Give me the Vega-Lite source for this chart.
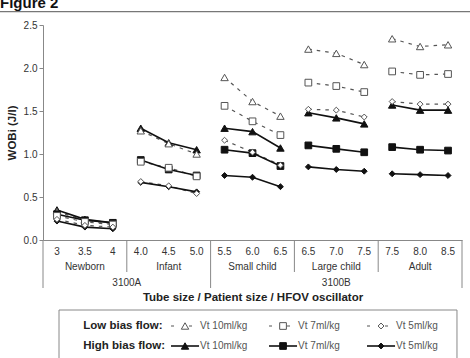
{
  "$schema": "https://vega.github.io/schema/vega-lite/v6.json",
  "width": 419,
  "height": 215,
  "autosize": {"type": "none"},
  "padding": {"left": 43, "top": 25, "right": 8, "bottom": 118},
  "config": {"font": "Liberation Sans", "view": {"stroke": null}},
  "datasets": {
    "wob": [
      {"g": "Newborn", "s": "3", "flow": "High", "vt": "10", "wob": 0.35},
      {"g": "Newborn", "s": "3.5", "flow": "High", "vt": "10", "wob": 0.24},
      {"g": "Newborn", "s": "4", "flow": "High", "vt": "10", "wob": 0.20},
      {"g": "Newborn", "s": "3", "flow": "High", "vt": "7", "wob": 0.30},
      {"g": "Newborn", "s": "3.5", "flow": "High", "vt": "7", "wob": 0.23},
      {"g": "Newborn", "s": "4", "flow": "High", "vt": "7", "wob": 0.20},
      {"g": "Newborn", "s": "3", "flow": "High", "vt": "5", "wob": 0.22},
      {"g": "Newborn", "s": "3.5", "flow": "High", "vt": "5", "wob": 0.15},
      {"g": "Newborn", "s": "4", "flow": "High", "vt": "5", "wob": 0.13},
      {"g": "Newborn", "s": "3", "flow": "Low", "vt": "10", "wob": 0.33},
      {"g": "Newborn", "s": "3.5", "flow": "Low", "vt": "10", "wob": 0.23},
      {"g": "Newborn", "s": "4", "flow": "Low", "vt": "10", "wob": 0.19},
      {"g": "Newborn", "s": "3", "flow": "Low", "vt": "7", "wob": 0.28},
      {"g": "Newborn", "s": "3.5", "flow": "Low", "vt": "7", "wob": 0.21},
      {"g": "Newborn", "s": "4", "flow": "Low", "vt": "7", "wob": 0.18},
      {"g": "Newborn", "s": "3", "flow": "Low", "vt": "5", "wob": 0.24},
      {"g": "Newborn", "s": "3.5", "flow": "Low", "vt": "5", "wob": 0.17},
      {"g": "Newborn", "s": "4", "flow": "Low", "vt": "5", "wob": 0.15},

      {"g": "Infant", "s": "4.0", "flow": "High", "vt": "10", "wob": 1.30},
      {"g": "Infant", "s": "4.5", "flow": "High", "vt": "10", "wob": 1.13},
      {"g": "Infant", "s": "5.0", "flow": "High", "vt": "10", "wob": 1.05},
      {"g": "Infant", "s": "4.0", "flow": "High", "vt": "7", "wob": 0.93},
      {"g": "Infant", "s": "4.5", "flow": "High", "vt": "7", "wob": 0.82},
      {"g": "Infant", "s": "5.0", "flow": "High", "vt": "7", "wob": 0.75},
      {"g": "Infant", "s": "4.0", "flow": "High", "vt": "5", "wob": 0.67},
      {"g": "Infant", "s": "4.5", "flow": "High", "vt": "5", "wob": 0.62},
      {"g": "Infant", "s": "5.0", "flow": "High", "vt": "5", "wob": 0.56},
      {"g": "Infant", "s": "4.0", "flow": "Low", "vt": "10", "wob": 1.27},
      {"g": "Infant", "s": "4.5", "flow": "Low", "vt": "10", "wob": 1.12},
      {"g": "Infant", "s": "5.0", "flow": "Low", "vt": "10", "wob": 1.00},
      {"g": "Infant", "s": "4.0", "flow": "Low", "vt": "7", "wob": 0.91},
      {"g": "Infant", "s": "4.5", "flow": "Low", "vt": "7", "wob": 0.84},
      {"g": "Infant", "s": "5.0", "flow": "Low", "vt": "7", "wob": 0.74},
      {"g": "Infant", "s": "4.0", "flow": "Low", "vt": "5", "wob": 0.68},
      {"g": "Infant", "s": "4.5", "flow": "Low", "vt": "5", "wob": 0.63},
      {"g": "Infant", "s": "5.0", "flow": "Low", "vt": "5", "wob": 0.54},

      {"g": "Small child", "s": "5.5", "flow": "High", "vt": "10", "wob": 1.30},
      {"g": "Small child", "s": "6.0", "flow": "High", "vt": "10", "wob": 1.26},
      {"g": "Small child", "s": "6.5", "flow": "High", "vt": "10", "wob": 1.07},
      {"g": "Small child", "s": "5.5", "flow": "High", "vt": "7", "wob": 1.05},
      {"g": "Small child", "s": "6.0", "flow": "High", "vt": "7", "wob": 1.01},
      {"g": "Small child", "s": "6.5", "flow": "High", "vt": "7", "wob": 0.86},
      {"g": "Small child", "s": "5.5", "flow": "High", "vt": "5", "wob": 0.75},
      {"g": "Small child", "s": "6.0", "flow": "High", "vt": "5", "wob": 0.73},
      {"g": "Small child", "s": "6.5", "flow": "High", "vt": "5", "wob": 0.62},
      {"g": "Small child", "s": "5.5", "flow": "Low", "vt": "10", "wob": 1.89},
      {"g": "Small child", "s": "6.0", "flow": "Low", "vt": "10", "wob": 1.61},
      {"g": "Small child", "s": "6.5", "flow": "Low", "vt": "10", "wob": 1.44},
      {"g": "Small child", "s": "5.5", "flow": "Low", "vt": "7", "wob": 1.56},
      {"g": "Small child", "s": "6.0", "flow": "Low", "vt": "7", "wob": 1.38},
      {"g": "Small child", "s": "6.5", "flow": "Low", "vt": "7", "wob": 1.22},
      {"g": "Small child", "s": "5.5", "flow": "Low", "vt": "5", "wob": 1.16},
      {"g": "Small child", "s": "6.0", "flow": "Low", "vt": "5", "wob": 1.02},
      {"g": "Small child", "s": "6.5", "flow": "Low", "vt": "5", "wob": 0.87},

      {"g": "Large child", "s": "6.5", "flow": "High", "vt": "10", "wob": 1.48},
      {"g": "Large child", "s": "7.0", "flow": "High", "vt": "10", "wob": 1.42},
      {"g": "Large child", "s": "7.5", "flow": "High", "vt": "10", "wob": 1.35},
      {"g": "Large child", "s": "6.5", "flow": "High", "vt": "7", "wob": 1.10},
      {"g": "Large child", "s": "7.0", "flow": "High", "vt": "7", "wob": 1.06},
      {"g": "Large child", "s": "7.5", "flow": "High", "vt": "7", "wob": 1.02},
      {"g": "Large child", "s": "6.5", "flow": "High", "vt": "5", "wob": 0.85},
      {"g": "Large child", "s": "7.0", "flow": "High", "vt": "5", "wob": 0.82},
      {"g": "Large child", "s": "7.5", "flow": "High", "vt": "5", "wob": 0.80},
      {"g": "Large child", "s": "6.5", "flow": "Low", "vt": "10", "wob": 2.22},
      {"g": "Large child", "s": "7.0", "flow": "Low", "vt": "10", "wob": 2.17},
      {"g": "Large child", "s": "7.5", "flow": "Low", "vt": "10", "wob": 2.04},
      {"g": "Large child", "s": "6.5", "flow": "Low", "vt": "7", "wob": 1.83},
      {"g": "Large child", "s": "7.0", "flow": "Low", "vt": "7", "wob": 1.79},
      {"g": "Large child", "s": "7.5", "flow": "Low", "vt": "7", "wob": 1.72},
      {"g": "Large child", "s": "6.5", "flow": "Low", "vt": "5", "wob": 1.52},
      {"g": "Large child", "s": "7.0", "flow": "Low", "vt": "5", "wob": 1.51},
      {"g": "Large child", "s": "7.5", "flow": "Low", "vt": "5", "wob": 1.43},

      {"g": "Adult", "s": "7.5", "flow": "High", "vt": "10", "wob": 1.57},
      {"g": "Adult", "s": "8.0", "flow": "High", "vt": "10", "wob": 1.51},
      {"g": "Adult", "s": "8.5", "flow": "High", "vt": "10", "wob": 1.51},
      {"g": "Adult", "s": "7.5", "flow": "High", "vt": "7", "wob": 1.08},
      {"g": "Adult", "s": "8.0", "flow": "High", "vt": "7", "wob": 1.05},
      {"g": "Adult", "s": "8.5", "flow": "High", "vt": "7", "wob": 1.04},
      {"g": "Adult", "s": "7.5", "flow": "High", "vt": "5", "wob": 0.77},
      {"g": "Adult", "s": "8.0", "flow": "High", "vt": "5", "wob": 0.76},
      {"g": "Adult", "s": "8.5", "flow": "High", "vt": "5", "wob": 0.75},
      {"g": "Adult", "s": "7.5", "flow": "Low", "vt": "10", "wob": 2.34},
      {"g": "Adult", "s": "8.0", "flow": "Low", "vt": "10", "wob": 2.25},
      {"g": "Adult", "s": "8.5", "flow": "Low", "vt": "10", "wob": 2.27},
      {"g": "Adult", "s": "7.5", "flow": "Low", "vt": "7", "wob": 1.96},
      {"g": "Adult", "s": "8.0", "flow": "Low", "vt": "7", "wob": 1.92},
      {"g": "Adult", "s": "8.5", "flow": "Low", "vt": "7", "wob": 1.93},
      {"g": "Adult", "s": "7.5", "flow": "Low", "vt": "5", "wob": 1.61},
      {"g": "Adult", "s": "8.0", "flow": "Low", "vt": "5", "wob": 1.58},
      {"g": "Adult", "s": "8.5", "flow": "Low", "vt": "5", "wob": 1.58}
    ],
    "legendItems": [
      {"flow": "Low", "vt": "10", "label": "Vt 10ml/kg"},
      {"flow": "Low", "vt": "7", "label": "Vt 7ml/kg"},
      {"flow": "Low", "vt": "5", "label": "Vt 5ml/kg"},
      {"flow": "High", "vt": "10", "label": "Vt 10ml/kg"},
      {"flow": "High", "vt": "7", "label": "Vt 7ml/kg"},
      {"flow": "High", "vt": "5", "label": "Vt 5ml/kg"}
    ]
  },
  "layer": [
    {
      "data": {"name": "wob"},
      "transform": [{"calculate": "datum.g + '|' + datum.s", "as": "key"}],
      "encoding": {
        "x": {
          "field": "key", "type": "nominal", "bandPosition": 0.5,
          "scale": {"type": "band", "paddingInner": 0, "paddingOuter": 0,
            "domain": ["Newborn|3", "Newborn|3.5", "Newborn|4", "Infant|4.0", "Infant|4.5", "Infant|5.0", "Small child|5.5", "Small child|6.0", "Small child|6.5", "Large child|6.5", "Large child|7.0", "Large child|7.5", "Adult|7.5", "Adult|8.0", "Adult|8.5"]},
          "axis": {"title": "Tube size / Patient size / HFOV oscillator", "labelExpr": "split(datum.label, '|')[1]", "labelAngle": 0, "ticks": false, "grid": false,
            "domainColor": "#888", "labelFontSize": 10, "labelColor": "#333", "labelPadding": 6,
            "titleFontSize": 11.5, "titleFontWeight": "bold", "titleColor": "#222", "titlePadding": 35}
        },
        "y": {
          "field": "wob", "type": "quantitative", "scale": {"domain": [0, 2.5]},
          "axis": {"values": [0, 0.5, 1, 1.5, 2, 2.5], "format": ".1f", "grid": false, "domainColor": "#888", "tickColor": "#888", "tickSize": 4,
            "labelFontSize": 10, "labelColor": "#333", "labelPadding": 2,
            "title": "WOBi (J/l)", "titleFontSize": 11.5, "titleFontWeight": "bold", "titleColor": "#222", "titlePadding": 6}
        }
      },
      "layer": [
        {
          "transform": [{"filter": "datum.flow == 'Low'"}],
          "mark": {"type": "line", "color": "#555", "strokeWidth": 1.2, "strokeDash": [3.5, 5]},
          "encoding": {"detail": [{"field": "g", "type": "nominal"}, {"field": "vt", "type": "nominal"}]}
        },
        {
          "transform": [{"filter": "datum.flow == 'High'"}],
          "mark": {"type": "line", "color": "#111", "strokeWidth": 1.6},
          "encoding": {"detail": [{"field": "g", "type": "nominal"}, {"field": "vt", "type": "nominal"}]}
        },
        {
          "transform": [{"filter": "datum.vt == '10'"}],
          "mark": {"type": "point", "shape": "triangle-up", "size": 55, "filled": true, "opacity": 1, "strokeWidth": 1},
          "encoding": {
            "fill": {"field": "flow", "type": "nominal", "scale": {"domain": ["Low", "High"], "range": ["#ffffff", "#111111"]}, "legend": null},
            "stroke": {"field": "flow", "type": "nominal", "scale": {"domain": ["Low", "High"], "range": ["#555555", "#111111"]}, "legend": null}
          }
        },
        {
          "transform": [{"filter": "datum.vt == '7'"}],
          "mark": {"type": "point", "shape": "square", "size": 45, "filled": true, "opacity": 1, "strokeWidth": 1},
          "encoding": {
            "fill": {"field": "flow", "type": "nominal", "legend": null},
            "stroke": {"field": "flow", "type": "nominal", "legend": null}
          }
        },
        {
          "transform": [{"filter": "datum.vt == '5'"}],
          "mark": {"type": "point", "shape": "diamond", "size": 35, "filled": true, "opacity": 1, "strokeWidth": 1},
          "encoding": {
            "fill": {"field": "flow", "type": "nominal", "legend": null},
            "stroke": {"field": "flow", "type": "nominal", "legend": null}
          }
        }
      ]
    },
    {
      "layer": [
        {
          "data": {"values": [
            {"key": "Newborn|3", "from": "tick", "to": "machine"},
            {"key": "Infant|4.0", "from": "tick", "to": "group"},
            {"key": "Small child|5.5", "from": "tick", "to": "machine"},
            {"key": "Large child|6.5", "from": "tick", "to": "group"},
            {"key": "Adult|7.5", "from": "tick", "to": "group"}
          ]},
          "mark": {"type": "rule", "color": "#888", "strokeWidth": 1},
          "encoding": {
            "x": {"field": "key", "type": "nominal", "bandPosition": 0,
              "scale": {"type": "band", "paddingInner": 0, "paddingOuter": 0,
                "domain": ["Newborn|3", "Newborn|3.5", "Newborn|4", "Infant|4.0", "Infant|4.5", "Infant|5.0", "Small child|5.5", "Small child|6.0", "Small child|6.5", "Large child|6.5", "Large child|7.0", "Large child|7.5", "Adult|7.5", "Adult|8.0", "Adult|8.5"]},
              "axis": null},
            "y": {"field": "from", "type": "nominal", "bandPosition": 0,
              "scale": {"type": "band", "domain": ["tick", "group", "machine"], "range": [215, 263], "paddingInner": 0, "paddingOuter": 0}, "axis": null},
            "y2": {"field": "to", "bandPosition": 1}
          }
        },
        {
          "data": {"values": [{"key": "Adult|8.5", "from": "tick", "to": "machine"}]},
          "mark": {"type": "rule", "color": "#888", "strokeWidth": 1},
          "encoding": {
            "x": {"field": "key", "type": "nominal", "bandPosition": 1, "axis": null},
            "y": {"field": "from", "type": "nominal", "bandPosition": 0, "axis": null},
            "y2": {"field": "to", "bandPosition": 1}
          }
        },
        {
          "data": {"values": [{"key": "Newborn|3", "end": "Adult|8.5", "from": "tick"}]},
          "mark": {"type": "rule", "color": "#777", "strokeWidth": 1.2},
          "encoding": {
            "x": {"field": "key", "type": "nominal", "bandPosition": -1.54, "axis": null},
            "x2": {"field": "end", "bandPosition": 1.29},
            "y": {"field": "from", "type": "nominal", "bandPosition": -14.27, "axis": null}
          }
        },
        {
          "data": {"values": [{"key": "Newborn|3", "from": "tick", "text": "Figure 2"}]},
          "mark": {"type": "text", "fontSize": 15, "fontWeight": "bold", "color": "#111", "align": "left", "baseline": "alphabetic"},
          "encoding": {
            "x": {"field": "key", "type": "nominal", "bandPosition": -1.54, "axis": null},
            "y": {"field": "from", "type": "nominal", "bandPosition": -14.5, "axis": null},
            "text": {"field": "text", "type": "nominal"}
          }
        },
        {
          "data": {"values": [
            {"key": "Newborn|3.5", "tier": "group", "text": "Newborn"},
            {"key": "Infant|4.5", "tier": "group", "text": "Infant"},
            {"key": "Small child|6.0", "tier": "group", "text": "Small child"},
            {"key": "Large child|7.0", "tier": "group", "text": "Large child"},
            {"key": "Adult|8.0", "tier": "group", "text": "Adult"},
            {"key": "Large child|7.0", "tier": "machine", "text": "3100B"}
          ]},
          "mark": {"type": "text", "fontSize": 10, "color": "#333", "baseline": "middle", "align": "center"},
          "encoding": {
            "x": {"field": "key", "type": "nominal", "bandPosition": 0.5, "axis": null},
            "y": {"field": "tier", "type": "nominal", "bandPosition": 0.7, "axis": null},
            "text": {"field": "text", "type": "nominal"}
          }
        },
        {
          "data": {"values": [{"key": "Infant|4.0", "tier": "machine", "text": "3100A"}]},
          "mark": {"type": "text", "fontSize": 10, "color": "#333", "baseline": "middle", "align": "center"},
          "encoding": {
            "x": {"field": "key", "type": "nominal", "bandPosition": 0, "axis": null},
            "y": {"field": "tier", "type": "nominal", "bandPosition": 0.7, "axis": null},
            "text": {"field": "text", "type": "nominal"}
          }
        }
      ]
    },
    {
      "layer": [
        {
          "data": {"values": [{"vt": "head", "vt2": "5", "flow": "Low", "flow2": "High"}]},
          "mark": {"type": "rect", "fillOpacity": 0, "stroke": "#888", "strokeWidth": 1},
          "encoding": {
            "x": {"field": "vt", "type": "nominal", "bandPosition": 0,
              "scale": {"type": "band", "domain": ["head", "10", "7", "5"], "range": [16, 408], "paddingInner": 0, "paddingOuter": 0}, "axis": null},
            "x2": {"field": "vt2", "bandPosition": 1.061},
            "y": {"field": "flow", "type": "nominal", "bandPosition": 0,
              "scale": {"type": "band", "domain": ["Low", "High"], "range": [285, 325], "paddingInner": 0, "paddingOuter": 0}, "axis": null},
            "y2": {"field": "flow2", "bandPosition": 3}
          }
        },
        {
          "data": {"name": "legendItems"},
          "transform": [{"filter": "datum.flow == 'Low'"}],
          "mark": {"type": "rule", "color": "#555", "strokeWidth": 1.2, "strokeDash": [3, 15]},
          "encoding": {
            "x": {"field": "vt", "type": "nominal", "bandPosition": 0.143, "axis": null},
            "x2": {"field": "vt", "bandPosition": 0.429},
            "y": {"field": "flow", "type": "nominal", "bandPosition": 0.8, "axis": null}
          }
        },
        {
          "data": {"name": "legendItems"},
          "transform": [{"filter": "datum.flow == 'High'"}],
          "mark": {"type": "rule", "color": "#111", "strokeWidth": 1.6},
          "encoding": {
            "x": {"field": "vt", "type": "nominal", "bandPosition": 0.143, "axis": null},
            "x2": {"field": "vt", "bandPosition": 0.429},
            "y": {"field": "flow", "type": "nominal", "bandPosition": 0.8, "axis": null}
          }
        },
        {
          "data": {"name": "legendItems"},
          "transform": [{"filter": "datum.vt == '10'"}],
          "mark": {"type": "point", "shape": "triangle-up", "size": 55, "filled": true, "opacity": 1, "strokeWidth": 1},
          "encoding": {
            "x": {"field": "vt", "type": "nominal", "bandPosition": 0.286, "axis": null},
            "y": {"field": "flow", "type": "nominal", "bandPosition": 0.8, "axis": null},
            "fill": {"field": "flow", "type": "nominal", "legend": null},
            "stroke": {"field": "flow", "type": "nominal", "legend": null}
          }
        },
        {
          "data": {"name": "legendItems"},
          "transform": [{"filter": "datum.vt == '7'"}],
          "mark": {"type": "point", "shape": "square", "size": 45, "filled": true, "opacity": 1, "strokeWidth": 1},
          "encoding": {
            "x": {"field": "vt", "type": "nominal", "bandPosition": 0.286, "axis": null},
            "y": {"field": "flow", "type": "nominal", "bandPosition": 0.8, "axis": null},
            "fill": {"field": "flow", "type": "nominal", "legend": null},
            "stroke": {"field": "flow", "type": "nominal", "legend": null}
          }
        },
        {
          "data": {"name": "legendItems"},
          "transform": [{"filter": "datum.vt == '5'"}],
          "mark": {"type": "point", "shape": "diamond", "size": 35, "filled": true, "opacity": 1, "strokeWidth": 1},
          "encoding": {
            "x": {"field": "vt", "type": "nominal", "bandPosition": 0.286, "axis": null},
            "y": {"field": "flow", "type": "nominal", "bandPosition": 0.8, "axis": null},
            "fill": {"field": "flow", "type": "nominal", "legend": null},
            "stroke": {"field": "flow", "type": "nominal", "legend": null}
          }
        },
        {
          "data": {"name": "legendItems"},
          "mark": {"type": "text", "fontSize": 10, "color": "#555", "align": "left", "baseline": "middle"},
          "encoding": {
            "x": {"field": "vt", "type": "nominal", "bandPosition": 0.44, "axis": null},
            "y": {"field": "flow", "type": "nominal", "bandPosition": 0.8, "axis": null},
            "text": {"field": "label", "type": "nominal"}
          }
        },
        {
          "data": {"values": [
            {"vt": "head", "flow": "Low", "text": "Low bias flow:"},
            {"vt": "head", "flow": "High", "text": "High bias flow:"}
          ]},
          "mark": {"type": "text", "fontSize": 11.5, "fontWeight": "bold", "color": "#222", "align": "left", "baseline": "middle"},
          "encoding": {
            "x": {"field": "vt", "type": "nominal", "bandPosition": 0.248, "axis": null},
            "y": {"field": "flow", "type": "nominal", "bandPosition": 0.8, "axis": null},
            "text": {"field": "text", "type": "nominal"}
          }
        }
      ]
    }
  ],
  "resolve": {"scale": {"x": "independent", "y": "independent"}}
}
